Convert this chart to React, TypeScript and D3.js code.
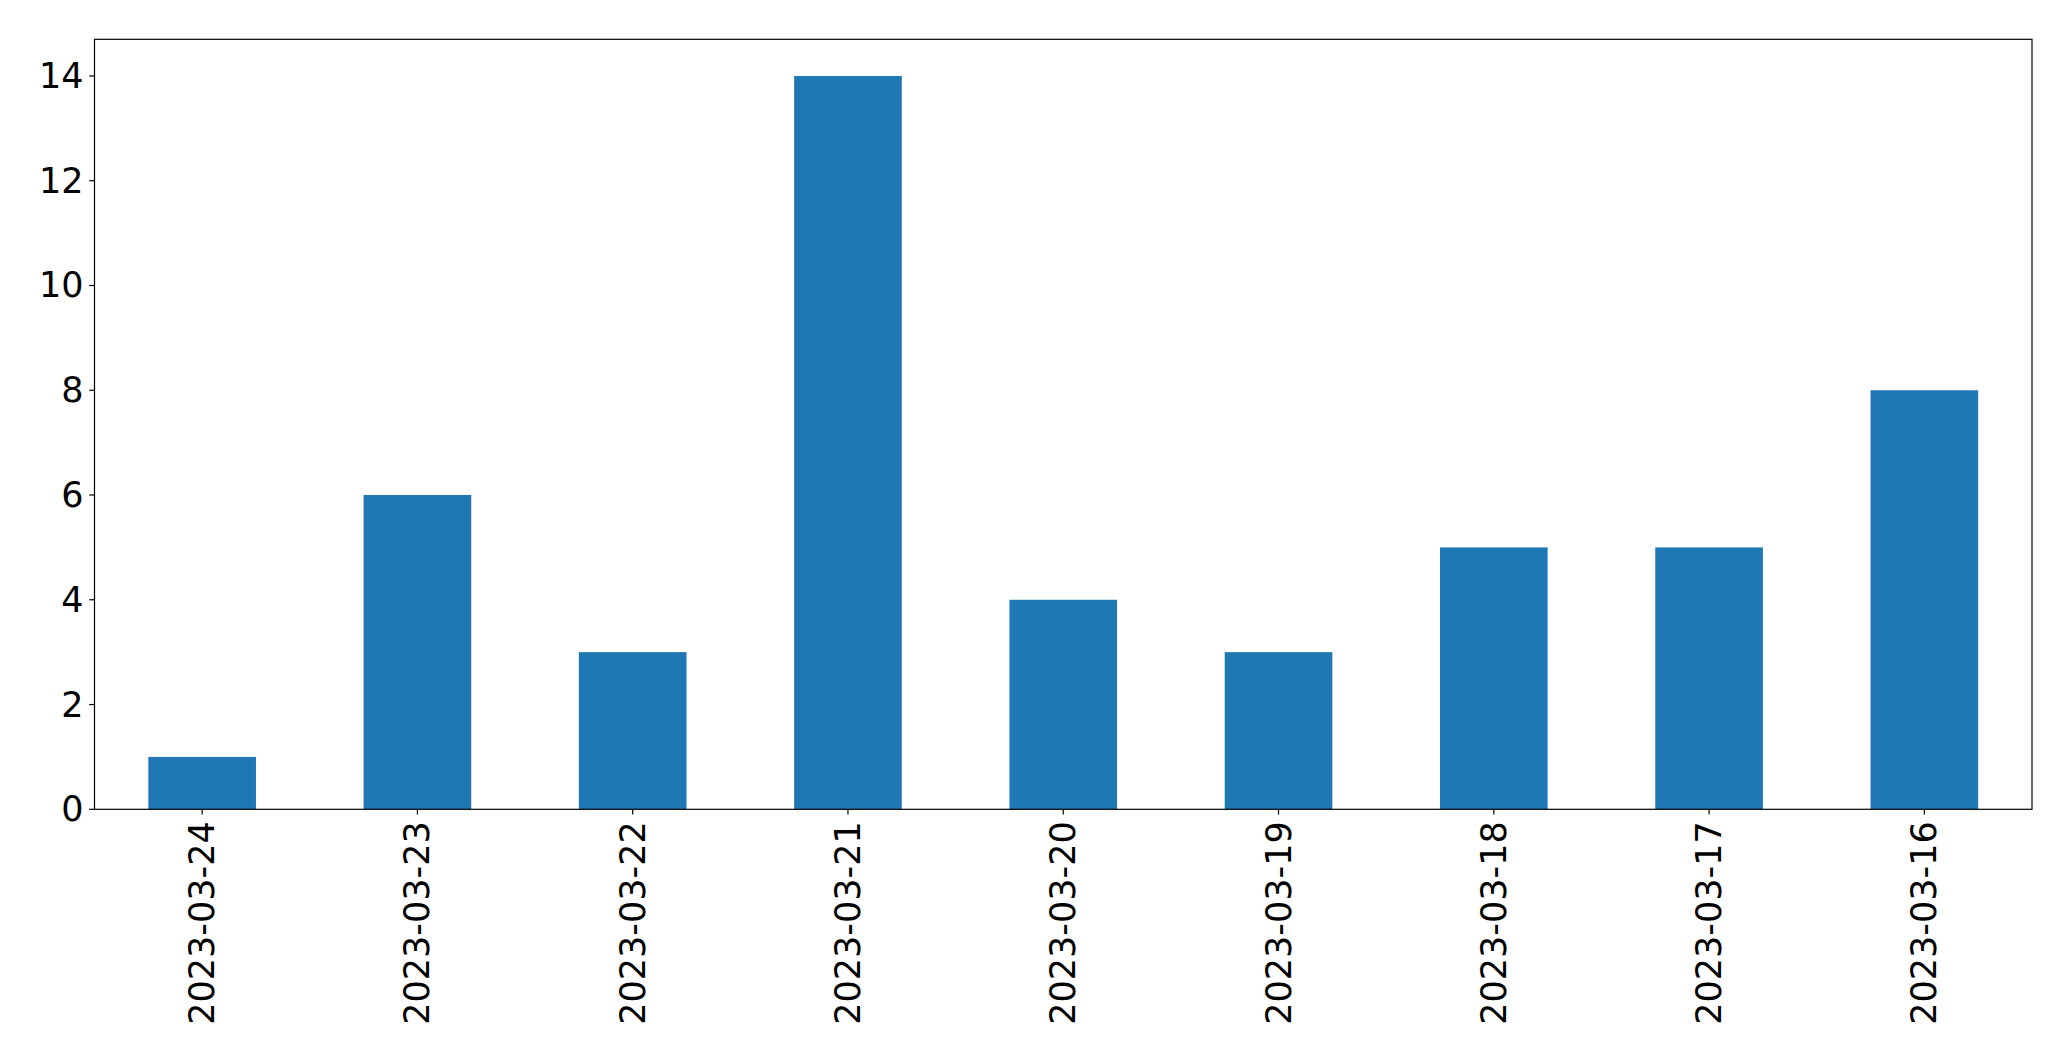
import React, { useEffect, useRef } from "react";
import * as d3 from "d3";

const categories: string[] = [
  "2023-03-24", "2023-03-23", "2023-03-22", "2023-03-21", "2023-03-20",
  "2023-03-19", "2023-03-18", "2023-03-17", "2023-03-16",
];
const counts: number[] = [1, 6, 3, 14, 4, 3, 5, 5, 8];
const yTicks: number[] = [0, 2, 4, 6, 8, 10, 12, 14];

const W = 2071;
const H = 1061;
const M = { left: 94.5, right: 2032, top: 39.3, bottom: 809.3 };
const FONT = "'DejaVu Sans', sans-serif";
const FS = 35;

export default function App() {
  const ref = useRef<SVGSVGElement | null>(null);

  useEffect(() => {
    const svg = d3.select(ref.current);
    svg.selectAll("*").remove();

    const x = d3.scaleLinear().domain([-0.5, categories.length - 0.5]).range([M.left, M.right]);
    const y = d3.scaleLinear().domain([0, 14.7]).range([M.bottom, M.top]);
    const bw = x(0.25) - x(-0.25);

    svg.append("rect").attr("x", 0).attr("y", 0).attr("width", W).attr("height", H).attr("fill", "#fff");

    svg.append("g")
      .selectAll("rect")
      .data(counts)
      .join("rect")
      .attr("x", (_d, i) => x(i) - bw / 2)
      .attr("y", (d) => y(d))
      .attr("width", bw)
      .attr("height", (d) => y(0) - y(d))
      .attr("fill", "#1f77b4");

    // y axis ticks
    const gy = svg.append("g");
    yTicks.forEach((t) => {
      gy.append("line")
        .attr("x1", M.left - 5.3).attr("x2", M.left)
        .attr("y1", y(t)).attr("y2", y(t))
        .attr("stroke", "#000").attr("stroke-width", 1.2);
      gy.append("text")
        .attr("x", M.left - 11)
        .attr("y", y(t))
        .attr("text-anchor", "end")
        .attr("dominant-baseline", "central")
        .attr("font-family", FONT)
        .attr("font-size", FS)
        .attr("fill", "#000")
        .text(String(t));
    });

    // x axis ticks
    const gx = svg.append("g");
    categories.forEach((c, i) => {
      gx.append("line")
        .attr("x1", x(i)).attr("x2", x(i))
        .attr("y1", M.bottom).attr("y2", M.bottom + 5.3)
        .attr("stroke", "#000").attr("stroke-width", 1.2);
      gx.append("text")
        .attr("transform", `translate(${x(i)},${M.bottom + 12}) rotate(-90)`)
        .attr("text-anchor", "end")
        .attr("dominant-baseline", "central")
        .attr("font-family", FONT)
        .attr("font-size", FS)
        .attr("fill", "#000")
        .text(c);
    });

    // frame
    svg.append("rect")
      .attr("x", M.left).attr("y", M.top)
      .attr("width", M.right - M.left).attr("height", M.bottom - M.top)
      .attr("fill", "none").attr("stroke", "#000").attr("stroke-width", 1.2);
  }, []);

  return (
    <div style={{ position: "absolute", left: 0, top: 0 }}>
      <svg ref={ref} width={W} height={H} style={{ display: "block" }} />
    </div>
  );
}
